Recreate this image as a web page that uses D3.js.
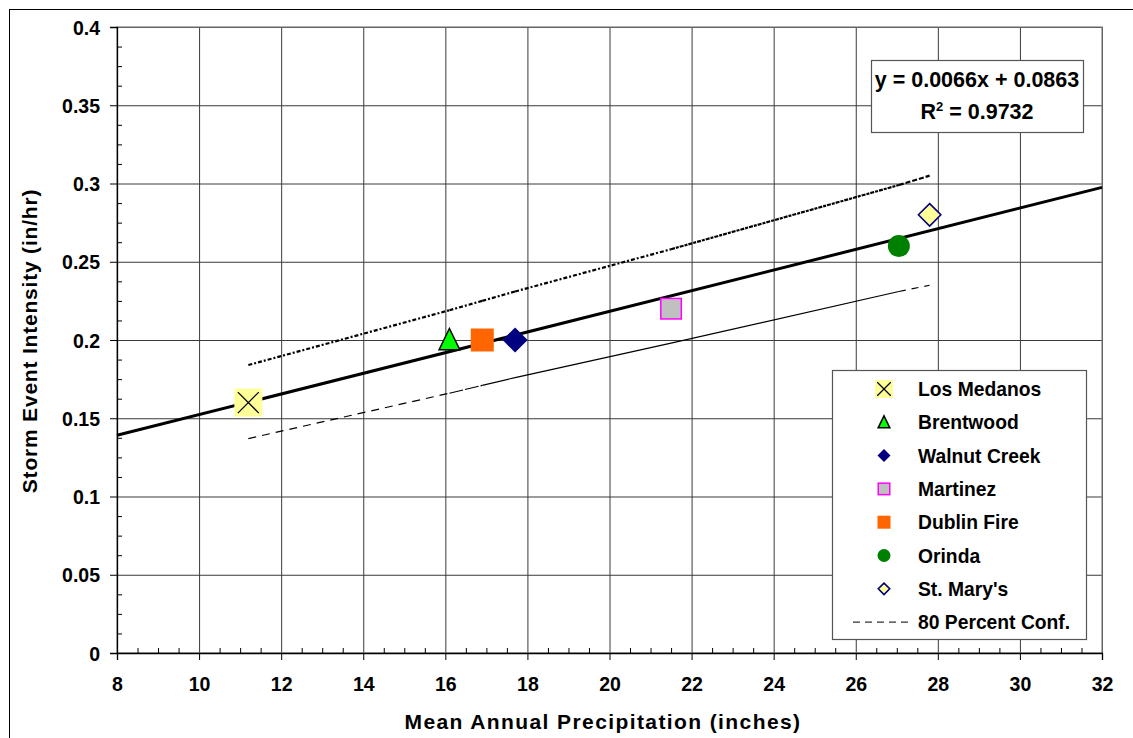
<!DOCTYPE html>
<html>
<head>
<meta charset="utf-8">
<script src="https://cdn.jsdelivr.net/npm/d3@7"></script>
<style>
  body { margin: 0; background: #fff; }
  text { font-family: "Liberation Sans", Arial, sans-serif; font-weight: bold; fill: #000; }
</style>
</head>
<body>
<div id="chart"></div>
<script>
// station data
const stations = ["Los Medanos", "Brentwood", "Walnut Creek", "Martinez", "Dublin Fire", "Orinda", "St. Mary's"];
const precip = [11.2, 16.1, 17.7, 21.5, 16.9, 27.05, 27.8];
const intensity = [0.16, 0.20, 0.20, 0.22, 0.20, 0.26, 0.28];

// trend line y = 0.0066x + 0.0863, drawn across the axis
const trendX = [8, 32];
const trendY = [0.1391, 0.2975];

// 80 percent confidence lines
const confX = [11.2, 16.1, 16.9, 17.7, 21.5, 27.05, 27.8];
const confUpper = [0.184, 0.219, 0.225, 0.231, 0.258, 0.299, 0.305];
const confLower = [0.137, 0.166, 0.171, 0.176, 0.198, 0.231, 0.235];

const xTicks = [8, 10, 12, 14, 16, 18, 20, 22, 24, 26, 28, 30, 32];
const yTicks = [0, 0.05, 0.1, 0.15, 0.2, 0.25, 0.3, 0.35, 0.4];
const yTickLabels = ["0", "0.05", "0.1", "0.15", "0.2", "0.25", "0.3", "0.35", "0.4"];

const svgWidth = 1133;
const svgHeight = 738;
const margin = { top: 27, left: 117 };
const width = 985;
const height = 626;

const svg = d3.select("#chart").append("svg")
  .attr("width", svgWidth)
  .attr("height", svgHeight);

// outer chart border
svg.append("rect")
  .attr("x", 9.5).attr("y", 9.5)
  .attr("width", 1140).attr("height", 760)
  .attr("fill", "none").attr("stroke", "#000").attr("stroke-width", 1);

const g = svg.append("g").attr("transform", `translate(${margin.left}, ${margin.top})`);

const x = d3.scaleLinear().domain([8, 32]).range([0, width]);
const y = d3.scaleLinear().domain([0, 0.4]).range([height, 0]);

// gridlines
g.append("g")
  .attr("class", "grid")
  .attr("transform", `translate(0, ${height})`)
  .call(d3.axisBottom(x).tickValues(xTicks).tickSize(-height).tickFormat(""));
g.append("g")
  .attr("class", "grid")
  .call(d3.axisLeft(y).tickValues(yTicks).tickSize(-width).tickFormat(""));
g.selectAll(".grid .domain").remove();
g.selectAll(".grid line").attr("stroke", "#3a3a3a").attr("stroke-width", 1);

// plot frame
g.append("rect")
  .attr("x", 0).attr("y", 0).attr("width", width).attr("height", height)
  .attr("fill", "none").attr("stroke", "#808080").attr("stroke-width", 1.2);

// minor ticks (inside)
const xMinor = d3.range(8, 32.01, 0.5).filter(v => v % 2 !== 0);
const yMinor = d3.range(0, 0.4001, 0.0125).filter((v, i) => i % 4 !== 0);

g.append("g")
  .attr("transform", `translate(0, ${height})`)
  .call(d3.axisBottom(x).tickValues(xMinor).tickSize(-5).tickFormat(""))
  .call(a => a.select(".domain").remove());
g.append("g")
  .call(d3.axisLeft(y).tickValues(yMinor).tickSize(-5).tickFormat(""))
  .call(a => a.select(".domain").remove());

// major axes
const xAxis = g.append("g")
  .attr("transform", `translate(0, ${height})`)
  .call(d3.axisBottom(x).tickValues(xTicks).tickSize(7).tickPadding(17));
const yAxis = g.append("g")
  .call(d3.axisLeft(y).tickValues(yTicks).tickSize(7).tickPadding(10)
    .tickFormat((d, i) => yTickLabels[i]));

[xAxis, yAxis].forEach(a => {
  a.selectAll("text").style("font-size", "19.5px").style("font-family", "Liberation Sans, Arial, sans-serif")
    .style("font-weight", "bold").attr("fill", "#000");
  a.selectAll("line").attr("stroke", "#000");
  a.select(".domain").attr("stroke", "#000").attr("stroke-width", 1.3);
});
yAxis.selectAll("text").attr("dy", "0.36em");

// confidence lines, segment by segment
const upperDash = ["4,2,2,2", "4,2,2,2", "4,2,2,2", "4,2,2,2", "4,1,3,1", "5,2"];
const lowerDash = ["8,6", "14,2", "none", "none", "none", "7,6"];
for (let i = 0; i < confX.length - 1; i++) {
  g.append("line")
    .attr("x1", x(confX[i])).attr("y1", y(confUpper[i]))
    .attr("x2", x(confX[i + 1])).attr("y2", y(confUpper[i + 1]))
    .attr("stroke", "#000").attr("stroke-width", 2.2)
    .attr("stroke-dasharray", upperDash[i]);
  g.append("line")
    .attr("x1", x(confX[i])).attr("y1", y(confLower[i]))
    .attr("x2", x(confX[i + 1])).attr("y2", y(confLower[i + 1]))
    .attr("stroke", "#000").attr("stroke-width", 1.2)
    .attr("stroke-dasharray", lowerDash[i]);
}

// trend line
g.append("line")
  .attr("x1", x(trendX[0])).attr("y1", y(trendY[0]))
  .attr("x2", x(trendX[1])).attr("y2", y(trendY[1]))
  .attr("stroke", "#000").attr("stroke-width", 3);

// marker drawing
const styles = {
  "Los Medanos": { fill: "#FFFF99", stroke: "none" },
  "Brentwood": { fill: "#00FF00", stroke: "#000" },
  "Walnut Creek": { fill: "#000080", stroke: "none" },
  "Martinez": { fill: "#C0C0C0", stroke: "#FF00FF" },
  "Dublin Fire": { fill: "#FF6600", stroke: "none" },
  "Orinda": { fill: "#008000", stroke: "none" },
  "St. Mary's": { fill: "#FFFF99", stroke: "#000080" }
};

function drawMarker(sel, name, cx, cy, s) {
  const st = styles[name];
  const h = s / 2;
  if (name === "Los Medanos") {
    sel.append("rect").attr("x", cx - h).attr("y", cy - h).attr("width", s).attr("height", s)
      .attr("fill", st.fill);
    const k = h * 0.75;
    sel.append("path").attr("d", `M${cx - k},${cy - k}L${cx + k},${cy + k}M${cx - k},${cy + k}L${cx + k},${cy - k}`)
      .attr("stroke", "#000").attr("stroke-width", 1.3);
  } else if (name === "Brentwood") {
    sel.append("path").attr("d", `M${cx},${cy - h}L${cx + h * 0.9},${cy + h * 0.85}L${cx - h * 0.9},${cy + h * 0.85}Z`)
      .attr("fill", st.fill).attr("stroke", st.stroke).attr("stroke-width", 1.5).attr("stroke-linejoin", "miter");
  } else if (name === "Walnut Creek" || name === "St. Mary's") {
    const r = st.stroke === "none" ? h : h - 0.8;
    sel.append("path").attr("d", `M${cx},${cy - r}L${cx + r},${cy}L${cx},${cy + r}L${cx - r},${cy}Z`)
      .attr("fill", st.fill).attr("stroke", st.stroke).attr("stroke-width", 1.6);
  } else if (name === "Orinda") {
    sel.append("circle").attr("cx", cx).attr("cy", cy).attr("r", h).attr("fill", st.fill);
  } else {
    const sw = st.stroke === "none" ? 0 : 1.5;
    sel.append("rect").attr("x", cx - h + sw / 2).attr("y", cy - h + sw / 2)
      .attr("width", s - sw).attr("height", s - sw)
      .attr("fill", st.fill).attr("stroke", st.stroke).attr("stroke-width", sw);
  }
}

const markerSize = { "Los Medanos": 28, "Brentwood": 23, "Walnut Creek": 25, "Martinez": 22, "Dublin Fire": 23, "Orinda": 22, "St. Mary's": 24 };
stations.forEach((name, i) => {
  drawMarker(g.append("g"), name, x(precip[i]), y(intensity[i]), markerSize[name]);
});

// equation box
svg.append("rect")
  .attr("x", 871.5).attr("y", 60.5).attr("width", 212).attr("height", 72)
  .attr("fill", "#fff").attr("stroke", "#555").attr("stroke-width", 1.2);
svg.append("text").attr("x", 977).attr("y", 87).attr("text-anchor", "middle")
  .style("font-size", "21.5px").text("y = 0.0066x + 0.0863");
const r2 = svg.append("text").attr("x", 977).attr("y", 119).attr("text-anchor", "middle")
  .style("font-size", "21.5px");
r2.append("tspan").text("R");
r2.append("tspan").attr("dy", -8).style("font-size", "13px").text("2");
r2.append("tspan").attr("dy", 8).text(" = 0.9732");

// legend
const legend = svg.append("g");
legend.append("rect")
  .attr("x", 832.5).attr("y", 370.5).attr("width", 254).attr("height", 269)
  .attr("fill", "#fff").attr("stroke", "#555").attr("stroke-width", 1.2);
const legendItems = stations.concat(["80 Percent Conf."]);
legendItems.forEach((name, i) => {
  const cy = 389 + i * 33.3;
  if (i < stations.length) {
    drawMarker(legend.append("g"), name, 884, cy, name === "Los Medanos" ? 18 : 13);
  } else {
    legend.append("line").attr("x1", 853).attr("x2", 910).attr("y1", cy).attr("y2", cy)
      .attr("stroke", "#000").attr("stroke-width", 1).attr("stroke-dasharray", "7,5");
  }
  legend.append("text").attr("x", 918).attr("y", cy + 7)
    .style("font-size", "19.3px").text(name);
});

// axis titles
svg.append("text")
  .attr("x", 603).attr("y", 729).attr("text-anchor", "middle")
  .style("font-size", "21px").style("letter-spacing", "1.4px")
  .text("Mean Annual Precipitation (inches)");
svg.append("text")
  .attr("transform", "translate(37, 341) rotate(-90)")
  .attr("text-anchor", "middle")
  .style("font-size", "21px").style("letter-spacing", "0.8px")
  .text("Storm Event Intensity (in/hr)");
</script>
</body>
</html>
